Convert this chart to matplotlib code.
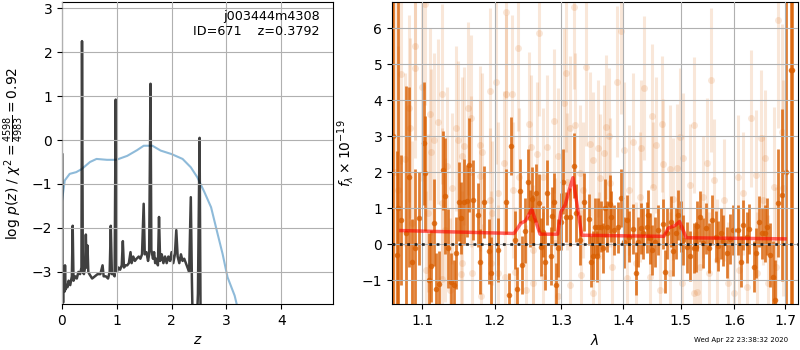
import numpy as np
import matplotlib
matplotlib.use('Agg')
import matplotlib.pyplot as plt

# ---- redshift fit panel ----
pz_z = [0.005, 0.008, 0.012, 0.020, 0.030, 0.045, 0.055, 0.065, 0.080, 0.100,
        0.120, 0.150, 0.180, 0.195, 0.210, 0.240, 0.270, 0.300, 0.330, 0.355,
        0.365, 0.380, 0.400, 0.420, 0.435, 0.450, 0.465, 0.480, 0.500, 0.550,
        0.600, 0.650, 0.700, 0.740, 0.760, 0.800, 0.840, 0.870, 0.890, 0.910,
        0.940, 0.960, 0.980, 1.000, 1.030, 1.060, 1.090, 1.110, 1.130, 1.160,
        1.190, 1.220, 1.250, 1.270, 1.300, 1.330, 1.360, 1.400, 1.430, 1.460,
        1.490, 1.510, 1.540, 1.570, 1.590, 1.615, 1.630, 1.660, 1.680, 1.700,
        1.720, 1.750, 1.770, 1.790, 1.820, 1.850, 1.880, 1.910, 1.940, 1.970,
        2.000, 2.030, 2.060, 2.085, 2.110, 2.140, 2.170, 2.200, 2.230, 2.260,
        2.290, 2.320, 2.350, 2.370, 2.390, 2.450, 2.480, 2.510, 2.530, 2.560]
pz_logp = [-0.33, -3.60, -3.40, -3.70, -3.30, -3.45, -2.85, -3.40, -3.30, -3.35,
           -3.20, -3.30, -3.10, -1.95, -3.20, -3.10, -3.15, -3.00, -3.05, -2.90,
           2.25, -3.00, -3.05, -2.90, -2.15, -2.90, -2.40, -3.00, -3.05, -3.15,
           -3.10, -3.05, -3.05, -2.85, -3.10, -3.10, -3.15, -3.00, -1.95, -3.05,
           -3.05, -3.10, 0.92, -3.00, -2.90, -2.95, -2.85, -2.30, -2.90, -2.85,
           -2.85, -2.80, -2.55, -2.80, -2.65, -2.75, -2.70, -2.65, -2.70, -2.60,
           -1.45, -2.60, -2.55, -2.75, -2.60, 1.28, -2.50, -2.70, -2.55, -2.80,
           -2.70, -2.85, -1.75, -2.75, -2.60, -2.80, -2.65, -2.80, -2.65, -2.75,
           -2.55, -2.80, -2.60, -2.05, -2.65, -2.80, -2.60, -2.75, -2.70, -2.80,
           -2.90, -3.00, -1.30, -3.20, -4.50, -4.50, -3.50, 0.05, -4.50, -6.00]

chi_z = [0.00, 0.05, 0.14, 0.26, 0.36, 0.51, 0.63, 0.82, 0.99, 1.19, 1.37, 1.49,
         1.65, 1.80, 2.00, 2.20, 2.35, 2.47, 2.60, 2.72, 2.84, 2.93, 3.02, 3.15, 3.20]
chi_val = [-1.38, -0.92, -0.77, -0.73, -0.66, -0.50, -0.43, -0.45, -0.45, -0.36,
           -0.23, -0.13, -0.13, -0.24, -0.32, -0.43, -0.62, -0.85, -1.19, -1.53,
           -2.14, -2.59, -3.12, -3.54, -3.80]

# ---- spectrum panel: binned (dark) points ----
wave_bin = [1.061, 1.062, 1.0665, 1.068, 1.0724, 1.0785, 1.0828, 1.0860, 1.0908, 1.0960,
            1.1019, 1.1040, 1.1085, 1.1120, 1.1160, 1.1187, 1.1227, 1.1273, 1.1309, 1.1345,
            1.1386, 1.1428, 1.1460, 1.1492, 1.1528, 1.1560, 1.1607, 1.1639, 1.1695, 1.1757,
            1.1794, 1.1842, 1.1914, 1.1952, 1.2040, 1.2160, 1.2210, 1.2240, 1.2290, 1.2320,
            1.2370, 1.2400, 1.2450, 1.2490, 1.2520, 1.2550, 1.2560, 1.2610, 1.2650, 1.2690,
            1.2710, 1.2740, 1.2770, 1.2830, 1.2860, 1.2890, 1.2910, 1.2940, 1.3000, 1.3030,
            1.3070, 1.3130, 1.3200, 1.3230, 1.3300, 1.3350, 1.3430, 1.3470, 1.3500, 1.3540,
            1.3570, 1.3590, 1.3630, 1.3660, 1.3700, 1.3730, 1.3780, 1.3800, 1.3840, 1.3920,
            1.3970, 1.4010, 1.4060, 1.4100, 1.4160, 1.4210, 1.4250, 1.4300, 1.4340, 1.4400,
            1.4430, 1.4460, 1.4500, 1.4540, 1.4600, 1.4680, 1.4720, 1.4760, 1.4820, 1.4870,
            1.4910, 1.4960, 1.5000, 1.5050, 1.5110, 1.5170, 1.5240, 1.5270, 1.5300, 1.5360,
            1.5410, 1.5460, 1.5520, 1.5580, 1.5640, 1.5690, 1.5740, 1.5790, 1.5860, 1.5920,
            1.5980, 1.6060, 1.6120, 1.6170, 1.6240, 1.6280, 1.6370, 1.6410, 1.6480, 1.6540,
            1.6600, 1.6640, 1.6690, 1.6750, 1.6790, 1.6850, 1.6940, 1.7030, 1.7130, 1.7145]
flux_bin = [3.00, 3.00, -0.30, 1.00, 0.68, 0.31, 1.88, -0.50, -0.11, 0.72,
            2.80, 1.97, -1.00, -0.60, 0.60, -1.25, -1.10, 2.05, 1.34, -0.11,
            -1.04, -1.13, -0.25, 1.18, 0.72, 1.18, 1.21, 2.20, 1.23, 0.81,
            -0.48, 1.18, -0.20, -0.80, -0.16, 1.18, -1.41, 2.73, 0.12, -1.23,
            1.48, -0.58, 0.38, 1.74, 0.72, 1.25, 0.67, 1.43, 1.14, -0.07,
            0.35, -0.48, 1.43, -0.32, 0.79, 1.18, -1.13, -0.11, 0.63, 1.74,
            0.75, 0.75, 2.18, 0.86, 0.12, 1.18, 0.69, -0.48, -0.32, 0.49,
            -0.34, 0.49, 0.49, -0.11, 1.00, 0.49, 1.12, 0.77, 0.40, 0.47,
            1.28, 0.05, 0.67, 0.21, 0.42, -0.81, 0.07, 0.44, 0.30, 0.47,
            0.81, 0.16, -0.16, 0.07, 0.40, 0.56, -0.76, 0.30, 0.63, -0.18,
            0.30, 0.81, 0.49, 0.12, -0.09, -0.32, -0.11, -0.07, 0.51, 0.77,
            0.03, 0.44, -0.11, 0.67, 0.21, -0.05, 0.30, 0.10, -0.23, 0.14,
            0.40, 0.40, -0.48, 0.53, 0.19, 0.42, -0.62, -0.25, 0.63, 0.30,
            0.30, 0.49, -0.30, -0.90, -1.55, 1.14, 1.37, 2.00, 4.84, 4.84]
err_bin = [20.0, 20.0, 2.90, 8.00, 1.80, 4.10, 2.50, 1.20, 2.20, 1.30,
           1.70, 1.60, 1.30, 1.00, 1.20, 1.00, 0.90, 1.10, 1.60, 1.10,
           0.80, 0.70, 1.00, 1.10, 1.00, 1.20, 1.00, 1.30, 1.10, 0.90,
           0.90, 1.00, 0.90, 1.00, 0.90, 0.90, 0.60, 0.80, 0.80, 0.60,
           0.90, 0.80, 0.90, 0.90, 0.80, 0.90, 0.70, 0.80, 0.80, 0.80,
           0.70, 0.80, 0.90, 0.80, 0.80, 0.80, 0.60, 0.80, 0.80, 0.90,
           0.70, 0.80, 0.90, 0.80, 0.70, 0.80, 0.70, 0.70, 0.70, 0.80,
           0.70, 0.80, 0.70, 0.70, 0.80, 0.70, 0.80, 0.70, 0.70, 0.70,
           0.80, 0.70, 0.70, 0.70, 0.70, 0.60, 0.70, 0.70, 0.70, 0.70,
           0.70, 0.70, 0.70, 0.70, 0.70, 0.70, 0.60, 0.70, 0.70, 0.70,
           0.70, 0.70, 0.70, 0.70, 0.70, 0.70, 0.70, 0.70, 0.70, 0.70,
           0.70, 0.70, 0.70, 0.70, 0.70, 0.70, 0.70, 0.70, 0.70, 0.70,
           0.70, 0.70, 0.70, 0.70, 0.70, 0.70, 0.70, 0.70, 0.70, 0.70,
           0.80, 0.80, 0.90, 1.00, 1.10, 1.50, 2.40, 20.0, 20.0, 20.0]

# ---- spectrum panel: unbinned (light) points ----
wave_raw = [1.0650, 1.0690, 1.0727, 1.0779, 1.0831, 1.0844, 1.0866, 1.0901, 1.0909, 1.0995,
            1.1039, 1.1045, 1.1075, 1.1105, 1.1118, 1.1150, 1.1215, 1.1260, 1.1262, 1.1265,
            1.1305, 1.1327, 1.1372, 1.1395, 1.1450, 1.1486, 1.1523, 1.1532, 1.1540, 1.1569,
            1.1625, 1.1662, 1.1665, 1.1671, 1.1789, 1.1792, 1.1800, 1.1813, 1.1933, 1.1935,
            1.1940, 1.1957, 1.2015, 1.2040, 1.2045, 1.2140, 1.2145, 1.2160, 1.2165, 1.2250,
            1.2260, 1.2290, 1.2340, 1.2360, 1.2460, 1.2500, 1.2530, 1.2560, 1.2565, 1.2620,
            1.2650, 1.2710, 1.2715, 1.2780, 1.2890, 1.2895, 1.2940, 1.2945, 1.3040, 1.3070,
            1.3090, 1.3130, 1.3135, 1.3200, 1.3205, 1.3290, 1.3310, 1.3340, 1.3390, 1.3450,
            1.3500, 1.3505, 1.3590, 1.3600, 1.3620, 1.3680, 1.3720, 1.3770, 1.3780, 1.3820,
            1.3890, 1.3970, 1.4010, 1.4060, 1.4090, 1.4160, 1.4220, 1.4280, 1.4310, 1.4350,
            1.4460, 1.4500, 1.4510, 1.4560, 1.4640, 1.4660, 1.4680, 1.4800, 1.4810, 1.4870,
            1.4940, 1.4990, 1.5020, 1.5050, 1.5170, 1.5240, 1.5245, 1.5300, 1.5360, 1.5400,
            1.5480, 1.5520, 1.5560, 1.5610, 1.5670, 1.5800, 1.5870, 1.6000, 1.6060, 1.6080,
            1.6170, 1.6250, 1.6320, 1.6410, 1.6440, 1.6510, 1.6550, 1.6600, 1.6650, 1.6770,
            1.6820, 1.6850, 1.6940, 1.6970]
flux_raw = [2.00, 1.50, 4.73, 2.36, 3.78, 3.22, 0.58, 5.51, 4.89, 4.36,
            6.68, -0.71, 0.86, 3.62, 2.57, 2.90, 3.41, 4.17, 1.14, -0.97,
            0.40, 2.17, -1.27, 1.55, 3.22, 2.90, -0.83, 2.45, -0.53, 2.73,
            3.78, 3.50, 2.02, -0.81, 2.76, 1.90, -1.44, 2.57, 4.27, 1.23,
            -0.53, 0.86, 4.52, 1.41, -0.81, 2.25, -0.90, 6.46, 4.17, 4.17,
            1.51, -0.76, 5.44, 1.88, -1.27, 3.34, 2.71, -1.09, -0.16, 2.50,
            5.86, 1.88, -0.90, 2.71, 3.43, 0.03, 2.45, -1.45, 3.92, 4.77,
            1.74, 3.22, -1.13, 6.60, 3.31, 1.97, -0.85, 1.51, 4.93, 2.79,
            2.34, -1.36, 2.67, -0.34, 1.83, 2.53, 3.27, 3.00, 1.71, -0.62,
            4.52, 5.93, 2.62, -0.94, 1.51, 2.85, -0.53, 1.32, 2.67, 4.33,
            -0.90, 3.55, 1.60, 2.76, -1.27, 3.34, 2.23, 2.08, -0.81, 1.25,
            2.11, 2.99, -1.09, 2.39, 1.65, 3.31, -1.36, -1.32, -0.62, 1.32,
            2.25, -0.81, 4.56, 1.79, -0.44, 1.23, -1.09, -1.36, 1.88, -0.71,
            1.41, -1.18, 3.50, 1.92, -0.81, 2.94, 1.23, 2.39, -1.09, 1.60,
            -0.62, 6.23, 3.13, 1.55]
err_raw = [5.0, 4.0, 2.5, 2.4, 2.6, 2.5, 2.3, 2.6, 2.5, 2.6,
           2.8, 2.2, 2.2, 2.4, 2.3, 2.4, 2.3, 2.5, 2.1, 2.0,
           2.0, 2.2, 2.0, 2.1, 2.3, 2.2, 2.0, 2.2, 2.0, 2.2,
           2.4, 2.3, 2.1, 2.0, 2.2, 2.1, 2.0, 2.2, 2.3, 2.0,
           2.0, 2.0, 2.3, 2.0, 1.9, 2.0, 1.9, 2.4, 2.2, 2.2,
           1.9, 1.8, 2.3, 1.9, 1.8, 2.0, 2.0, 1.8, 1.8, 2.0,
           2.3, 1.9, 1.8, 2.0, 2.0, 1.8, 1.9, 1.8, 2.1, 2.2,
           1.9, 2.0, 1.8, 2.3, 2.0, 1.9, 1.8, 1.9, 2.2, 2.0,
           1.9, 1.8, 1.9, 1.8, 1.8, 1.9, 2.0, 1.9, 1.8, 1.7,
           2.1, 2.3, 1.9, 1.7, 1.8, 1.9, 1.7, 1.8, 1.9, 2.0,
           1.7, 2.0, 1.8, 1.9, 1.7, 1.9, 1.8, 1.8, 1.7, 1.7,
           1.8, 1.9, 1.7, 1.8, 1.7, 1.9, 1.7, 1.7, 1.7, 1.7,
           1.8, 1.7, 2.0, 1.7, 1.7, 1.7, 1.7, 1.7, 1.7, 1.7,
           1.7, 1.7, 1.9, 1.8, 1.7, 1.9, 1.8, 1.9, 1.9, 2.2,
           2.2, 3.0, 3.0, 3.0]

# ---- best-fit model ----
wave_model = [1.072, 1.228, 1.238, 1.245, 1.2545, 1.267, 1.294, 1.299, 1.306, 1.312,
              1.318, 1.332, 1.470, 1.478, 1.490, 1.498, 1.510, 1.700]
flux_model = [0.38, 0.30, 0.58, 0.65, 0.97, 0.28, 0.28, 0.90, 1.10, 1.50,
              1.85, 0.25, 0.22, 0.45, 0.52, 0.63, 0.18, 0.15]

wave_ticks = [1.1, 1.2, 1.3, 1.4, 1.5, 1.6, 1.7]

fig = plt.figure(figsize=(8, 3.5), dpi=100)
ax1 = fig.add_axes([0.0775, 0.1314, 0.3388, 0.8629])
ax2 = fig.add_axes([0.49, 0.1314, 0.5075, 0.8629])

# left: p(z)
ax1.plot(chi_z, chi_val, color='tab:blue', alpha=0.5, lw=1.5)
ax1.plot(pz_z, pz_logp, color='k', alpha=0.75, lw=1.8)
ax1.set_xlim(0, 4.945)
ax1.set_ylim(-3.73, 3.14)
ax1.set_xticks([0, 1, 2, 3, 4])
ax1.set_yticks([-3, -2, -1, 0, 1, 2, 3])
ax1.set_axisbelow(False)
ax1.grid()
ax1.set_xlabel('$z$')
ax1.set_ylabel(r'log $p(z)$ / $\chi^2=\frac{4598}{4983}=0.92$')
ax1.text(0.95, 0.975, 'j003444m4308\nID=671    z=0.3792', transform=ax1.transAxes,
         ha='right', va='top', fontsize=9.2)

# right: spectrum
orange = '#d95f02'
ax2.errorbar(wave_raw, flux_raw, yerr=err_raw, fmt='o', color=orange, alpha=0.15,
             ms=5, elinewidth=2.2, capsize=0, mec='none', zorder=1)
ax2.errorbar(wave_bin, flux_bin, yerr=err_bin, fmt='o', color=orange, alpha=0.8,
             ms=4, elinewidth=2, capsize=0, mec='none', zorder=2)
ax2.plot(wave_model, flux_model, color='red', alpha=0.6, lw=2.5, zorder=3)
ax2.axhline(0, color='k', ls=':', lw=2, alpha=0.8, zorder=4)
ax2.set_xscale('log')
ax2.set_xticks(wave_ticks, labels=[str(t) for t in wave_ticks])
ax2.minorticks_off()
ax2.set_xlim(1.0607, 1.7268)
ax2.set_ylim(-1.66, 6.73)
ax2.set_yticks([-1, 0, 1, 2, 3, 4, 5, 6])
ax2.set_axisbelow(False)
ax2.grid()
ax2.set_xlabel(r'$\lambda$')
ax2.set_ylabel(r'$f_\lambda \times 10^{-19}$')

fig.text(0.985, 0.029, 'Wed Apr 22 23:38:32 2020', ha='right', va='center', fontsize=5)

fig.savefig('out.png', dpi=100)
